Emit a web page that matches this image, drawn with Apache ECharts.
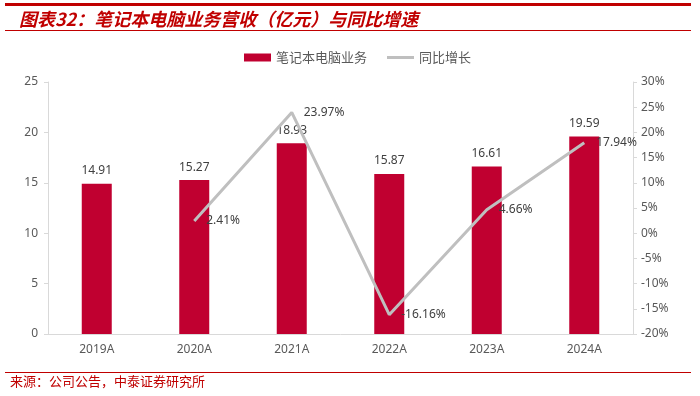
<!DOCTYPE html>
<html>
<head>
<meta charset="utf-8">
<script src="https://cdn.jsdelivr.net/npm/echarts@6/dist/echarts.min.js"></script>
<style>
  html, body { margin: 0; padding: 0; background: #fff; }
  #chart { width: 700px; height: 396px; }
</style>
</head>
<body>
<div id="chart"></div>
<script>
// data
var years = ['2019A', '2020A', '2021A', '2022A', '2023A', '2024A'];
var revenue = [14.91, 15.27, 18.93, 15.87, 16.61, 19.59];
var growth = [null, 2.41, 23.97, -16.16, 4.66, 17.94];

var titleText = '图表32：笔记本电脑业务营收（亿元）与同比增速';
var sourceText = '来源：公司公告，中泰证券研究所';

var red = '#C00030';
var gray = '#BFBFBF';
var textColor = '#595959';
var font = '"Noto Sans", "Noto Sans CJK SC", sans-serif';

// invisible per-point symbols so the labels get drawn, legend keeps a plain line
var growthPoints = growth.map(function (v) {
  return { value: v, symbol: 'circle', symbolSize: 0 };
});

var chart = echarts.init(document.getElementById('chart'));
chart.setOption({
  backgroundColor: '#fff',
  animation: false,
  textStyle: { fontFamily: font },
  title: {
    text: titleText,
    left: 14,
    top: 5,
    textStyle: {
      color: '#C00000',
      fontSize: 18,
      fontWeight: 'bold',
      fontStyle: 'italic',
      fontFamily: '"Noto Sans CJK SC", sans-serif'
    }
  },
  graphic: [
    { type: 'rect', shape: { x: 5, y: 3, width: 686, height: 3 }, style: { fill: '#C00000' } },
    { type: 'rect', shape: { x: 5, y: 30, width: 686, height: 1 }, style: { fill: '#C00000' } },
    { type: 'rect', shape: { x: 5, y: 372, width: 686, height: 1 }, style: { fill: '#C00000' } },
    {
      type: 'text', left: 10, top: 375,
      style: { text: sourceText, fill: '#C00000', fontSize: 13, fontFamily: '"Noto Sans CJK SC", sans-serif' }
    }
  ],
  legend: {
    left: 239,
    top: 46,
    itemWidth: 27,
    itemHeight: 8,
    itemGap: 20,
    textStyle: { color: textColor, fontSize: 13, fontFamily: '"Noto Sans CJK SC", sans-serif' },
    data: [
      { name: '笔记本电脑业务', icon: 'rect' },
      { name: '同比增长', icon: 'path://M0,0H27V3H0Z', itemStyle: { color: gray } }
    ]
  },
  grid: { left: 48, right: 67, top: 82, bottom: 62 },
  xAxis: {
    type: 'category',
    data: years,
    axisLine: { lineStyle: { color: '#D9D9D9' } },
    axisTick: { show: false },
    axisLabel: { color: textColor, fontSize: 12, margin: 10 }
  },
  yAxis: [
    {
      type: 'value',
      min: 0, max: 25, interval: 5,
      splitLine: { show: false },
      axisLine: { show: true, lineStyle: { color: '#D9D9D9' } },
      axisTick: { show: true, length: 4, lineStyle: { color: '#D9D9D9' } },
      axisLabel: { color: textColor, fontSize: 12, margin: 10 }
    },
    {
      type: 'value',
      min: -20, max: 30, interval: 5,
      splitLine: { show: false },
      axisLine: { show: true, lineStyle: { color: '#D9D9D9' } },
      axisTick: { show: true, length: 4, lineStyle: { color: '#D9D9D9' } },
      axisLabel: { color: textColor, fontSize: 12, margin: 8, formatter: '{value}%' }
    }
  ],
  series: [
    {
      name: '笔记本电脑业务',
      type: 'bar',
      data: revenue,
      barWidth: 30,
      itemStyle: { color: red },
      label: {
        show: true, position: 'top', distance: 7,
        color: '#404040', fontSize: 12,
        formatter: function (p) { return p.value.toFixed(2); }
      }
    },
    {
      name: '同比增长',
      type: 'line',
      yAxisIndex: 1,
      data: growthPoints,
      symbol: 'none',
      z: 3,
      zlevel: 0,
      lineStyle: { color: gray, width: 3 },
      itemStyle: { color: gray },
      label: {
        show: true, position: 'right', distance: 12,
        color: '#404040', fontSize: 12,
        formatter: function (p) { return p.value.toFixed(2) + '%'; }
      }
    }
  ]
});
</script>
</body>
</html>
